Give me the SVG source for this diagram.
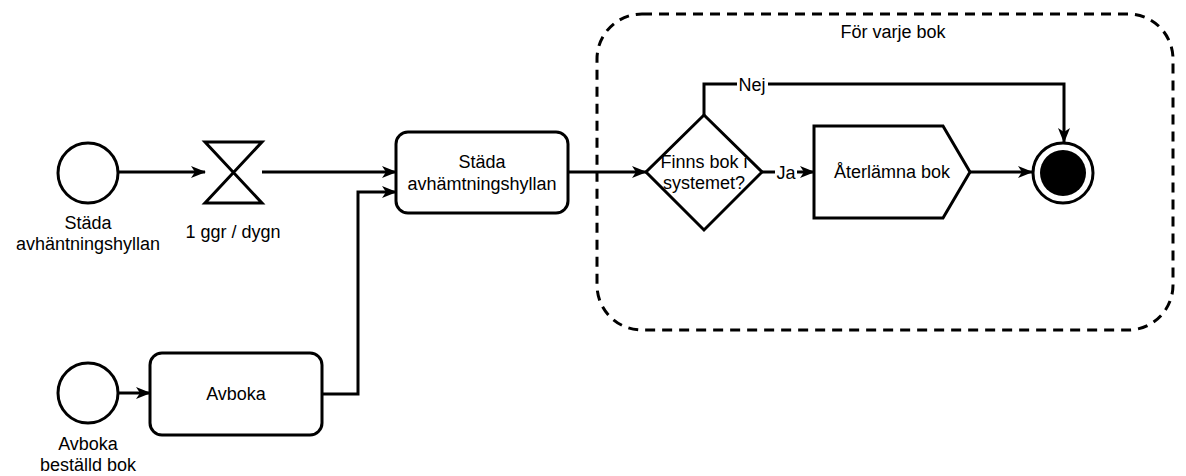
<svg xmlns="http://www.w3.org/2000/svg" width="1186" height="476" viewBox="0 0 1186 476">
<style>
.s{fill:#fff;stroke:#000;stroke-width:3}
.e{fill:none;stroke:#000;stroke-width:3}
.t{font-family:"Liberation Sans",Arial,sans-serif;font-size:18px;fill:#000;text-anchor:middle}
.bg{fill:#fff}
</style>
<defs>
<marker id="a" markerUnits="userSpaceOnUse" viewBox="0 0 15 12" refX="14" refY="6" markerWidth="15" markerHeight="12" orient="auto">
<path d="M0,0 L15,6 L0,12 L4,6 Z" fill="#000"/>
</marker>
</defs>
<rect fill="#fff" width="1186" height="476"/>
<g id="container">
<rect x="597" y="14" width="576" height="316" rx="45" fill="none" stroke="#000" stroke-width="3" stroke-dasharray="10 7"/>
<text class="t" x="893" y="38">För varje bok</text>
</g>
<g id="connectors">
<path class="e" d="M118,172 H205" marker-end="url(#a)"/>
<path class="e" d="M262,172 H396" marker-end="url(#a)"/>
<path class="e" d="M322,394 H358 V192 H396" marker-end="url(#a)"/>
<path class="e" d="M118,393 H150" marker-end="url(#a)"/>
<path class="e" d="M568,172 H646" marker-end="url(#a)"/>
<path class="e" d="M762,172 H814" marker-end="url(#a)"/>
<rect class="bg" x="775" y="162" width="22" height="20"/>
<text class="t" x="786" y="179">Ja</text>
<path class="e" d="M704,115 V84 H1064 V142" marker-end="url(#a)"/>
<rect class="bg" x="737" y="74" width="31" height="20"/>
<text class="t" x="752" y="91">Nej</text>
<path class="e" d="M970,172 H1032" marker-end="url(#a)"/>
</g>
<g id="start1">
<circle class="s" cx="88" cy="173" r="30"/>
<text class="t" x="88" y="229">Städa</text>
<text class="t" x="88" y="250">avhäntningshyllan</text>
</g>
<g id="timer">
<path class="s" d="M205,142 H262 L205,203 H262 Z"/>
<text class="t" x="233" y="238">1 ggr / dygn</text>
</g>
<g id="stada">
<rect class="s" x="396" y="132" width="172" height="81" rx="12"/>
<text class="t" x="482" y="168">Städa</text>
<text class="t" x="482" y="190">avhämtningshyllan</text>
</g>
<g id="start2">
<circle class="s" cx="88" cy="393" r="30"/>
<text class="t" x="88" y="450">Avboka</text>
<text class="t" x="88" y="471">beställd bok</text>
</g>
<g id="avboka">
<rect class="s" x="150" y="353" width="172" height="82" rx="12"/>
<text class="t" x="236" y="400">Avboka</text>
</g>
<g id="decision">
<path class="s" d="M704,115 L762,172 L704,230 L646,172 Z"/>
<text class="t" x="704" y="168">Finns bok i</text>
<text class="t" x="704" y="189">systemet?</text>
</g>
<g id="aterlamna">
<path class="s" d="M814,126 H943 L970,172 L943,218 H814 Z"/>
<text class="t" x="892" y="178">Återlämna bok</text>
</g>
<g id="end">
<circle class="s" cx="1063" cy="173" r="30"/>
<circle cx="1063" cy="173" r="23" fill="#000"/>
</g>
</svg>
